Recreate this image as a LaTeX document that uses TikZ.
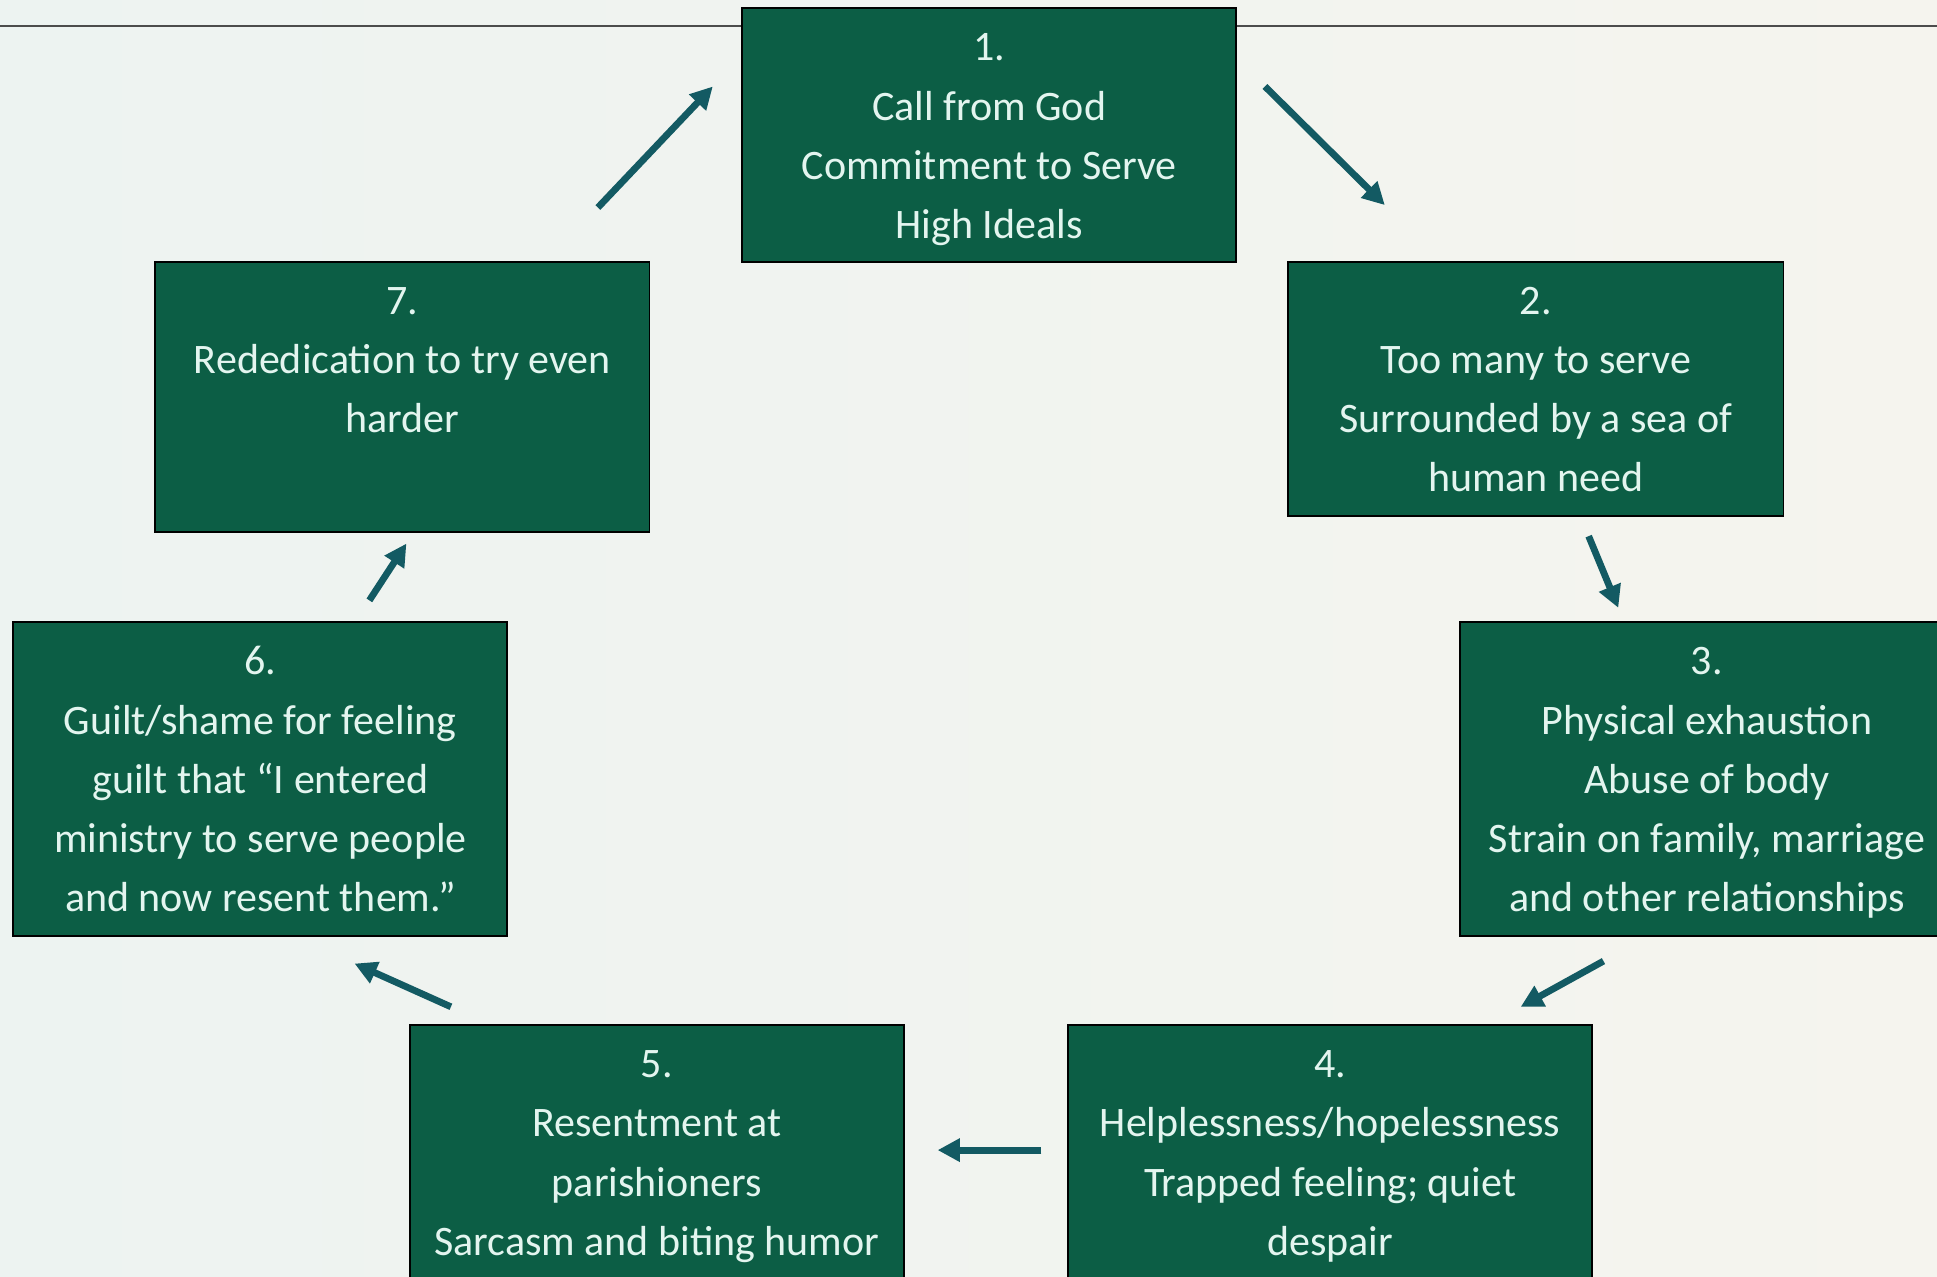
\documentclass[tikz,border=0pt]{standalone}
\usepackage{fontspec}
\setmainfont{Carlito}
\usetikzlibrary{arrows.meta}
\definecolor{boxgreen}{HTML}{0C5E45}
\definecolor{txtc}{HTML}{E3F5EF}
\definecolor{arrc}{HTML}{135A63}
\definecolor{bgl}{HTML}{EDF3F1}
\definecolor{bgr}{HTML}{F5F4EE}
\begin{document}
\begin{tikzpicture}[x=1pt,y=-1pt,
  stagebox/.style={draw=black, line width=1.5pt, fill=boxgreen, inner sep=0pt, anchor=north west},
  stagetext/.style={text=txtc, font=\fontsize{34}{48}\selectfont, align=center, anchor=north, inner sep=0pt},
  flow/.style={draw=arrc, line width=5.5pt, -{Triangle[length=18pt,width=18pt]}}]
\clip (0,0) rectangle (1568,1033);
\useasboundingbox (0,0) rectangle (1568,1033);
\fill[left color=bgl, right color=bgr] (0,0) rectangle (1568,1033);
\coordinate (ll) at (0,21);
\coordinate (lr) at (1568,21);
\draw[line width=1.2pt, draw=black!70] (ll) -- (lr);
% boxes
\node[stagebox, minimum width=400pt, minimum height=205pt] (b1) at (600,6) {};
\node[stagebox, minimum width=401pt, minimum height=206pt] (b2) at (1042,211) {};
\node[stagebox, minimum width=400pt, minimum height=254pt] (b3) at (1181,503) {};
\node[stagebox, minimum width=424pt, minimum height=230pt] (b4) at (864,829) {};
\node[stagebox, minimum width=400pt, minimum height=230pt] (b5) at (331,829) {};
\node[stagebox, minimum width=400pt, minimum height=254pt] (b6) at (10,503) {};
\node[stagebox, minimum width=400pt, minimum height=219pt] (b7) at (125,211) {};
% texts
\node[stagetext] (t1) at ([yshift=-13pt]b1.north) {\rule{0pt}{30pt}1.\\Call from God\\Commitment to Serve\\High Ideals};
\node[stagetext] (t2) at ([yshift=-13pt]b2.north) {\rule{0pt}{30pt}2.\\Too many to serve\\Surrounded by a sea of\\human need};
\node[stagetext] (t3) at ([yshift=-13pt]b3.north) {\rule{0pt}{30pt}3.\\Physical exhaustion\\Abuse of body\\Strain on family, marriage\\and other relationships};
\node[stagetext] (t4) at ([yshift=-13pt]b4.north) {\rule{0pt}{30pt}4.\\Helplessness/hopelessness\\Trapped feeling; quiet\\despair};
\node[stagetext] (t5) at ([yshift=-13pt]b5.north) {\rule{0pt}{30pt}5.\\Resentment at\\parishioners\\Sarcasm and biting humor};
\node[stagetext] (t6) at ([yshift=-13pt]b6.north) {\rule{0pt}{30pt}6.\\Guilt/shame for feeling\\guilt that “I entered\\ministry to serve people\\and now resent them.”};
\node[stagetext] (t7) at ([yshift=-13pt]b7.north) {\rule{0pt}{30pt}7.\\Rededication to try even\\harder};
% arrow ends
\coordinate (a12s) at (1024,70);  \coordinate (a12e) at (1121,166);
\coordinate (a23s) at (1286,434); \coordinate (a23e) at (1310,492);
\coordinate (a34s) at (1298,778); \coordinate (a34e) at (1231,815);
\coordinate (a45s) at (843,931);  \coordinate (a45e) at (759,931);
\coordinate (a56s) at (365,815);  \coordinate (a56e) at (287,780);
\coordinate (a67s) at (299,486);  \coordinate (a67e) at (329,440);
\coordinate (a71s) at (484,168);  \coordinate (a71e) at (577,70);
\draw[flow] (a12s) -- (a12e);
\draw[flow] (a23s) -- (a23e);
\draw[flow] (a34s) -- (a34e);
\draw[flow] (a45s) -- (a45e);
\draw[flow] (a56s) -- (a56e);
\draw[flow] (a67s) -- (a67e);
\draw[flow] (a71s) -- (a71e);
\end{tikzpicture}
\end{document}
